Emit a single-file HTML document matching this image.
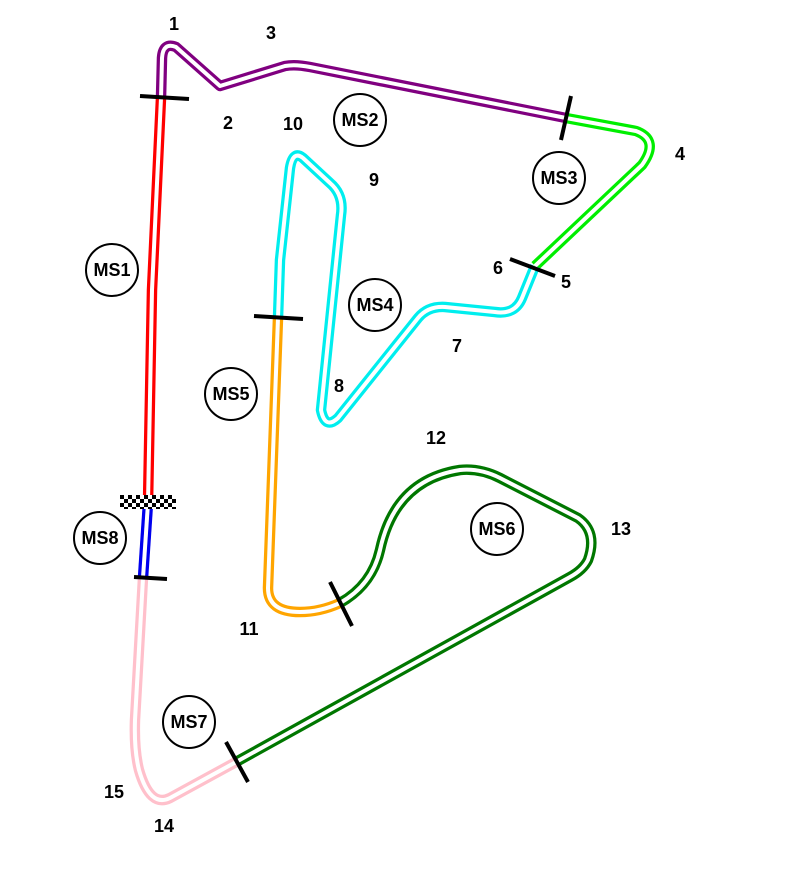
<!DOCTYPE html>
<html><head><style>
html,body{margin:0;padding:0;background:#fff;width:791px;height:873px;overflow:hidden}
text{font-family:"Liberation Sans",Arial,sans-serif;font-weight:bold;font-size:18px;fill:#000}
</style></head><body>
<svg width="791" height="873" viewBox="0 0 791 873" xmlns="http://www.w3.org/2000/svg">
<defs>
<pattern id="chk" x="120" y="495" width="8" height="8" patternUnits="userSpaceOnUse">
<rect width="8" height="8" fill="#fff"/><rect width="4" height="4" fill="#000"/><rect x="4" y="4" width="4" height="4" fill="#000"/>
</pattern>
</defs>
<g fill="none" stroke-linejoin="round" stroke-linecap="butt">
<g stroke-width="10.5">
<path stroke="#800080" d="M161,98 L162,58 Q163,42 176,47 L220,86 L285,66 Q295,64 310,67 L566,118"/>
<path stroke="#00ee00" d="M566,118 L636,131 Q660,140 642,165 L535,266"/>
<path stroke="#00eeee" d="M535,266 L522,298 Q515,315 495,312 L445,307 Q428,306 418,318 L338,418 Q325,430 321,410 L341,215 Q344,195 330,183 L303,158 Q293,150 290,168 L280,260 L278,318"/>
<path stroke="#ffa500" d="M278,318 L268,588 Q268,612 300,612 Q320,612 340,603"/>
<path stroke="#007700" d="M340,603 Q372,585 380,550 Q395,480 460,470 Q480,468 500,478 L578,518 Q598,532 588,560 Q583,570 570,577 L236,762"/>
<path stroke="#ffc0cb" d="M236,762 L170,798 Q150,808 139,770 Q134,750 135,720 L143,578"/>
<path stroke="#0000ee" d="M143,578 L148,503"/>
<path stroke="#ff0000" d="M148,503 L152,290 L161,98"/>
</g>
<g stroke="#fff" stroke-width="4">
<path d="M161,98 L162,58 Q163,42 176,47 L220,86 L285,66 Q295,64 310,67 L566,118"/>
<path d="M566,118 L636,131 Q660,140 642,165 L535,266"/>
<path d="M535,266 L522,298 Q515,315 495,312 L445,307 Q428,306 418,318 L338,418 Q325,430 321,410 L341,215 Q344,195 330,183 L303,158 Q293,150 290,168 L280,260 L278,318"/>
<path d="M278,318 L268,588 Q268,612 300,612 Q320,612 340,603"/>
<path d="M340,603 Q372,585 380,550 Q395,480 460,470 Q480,468 500,478 L578,518 Q598,532 588,560 Q583,570 570,577 L236,762"/>
<path d="M236,762 L170,798 Q150,808 139,770 Q134,750 135,720 L143,578"/>
<path d="M143,578 L148,503"/>
<path d="M148,503 L152,290 L161,98"/>
</g>
<g stroke="#000" stroke-width="4">
<line x1="140" y1="96" x2="189" y2="99"/>
<line x1="571" y1="96" x2="561" y2="140"/>
<line x1="510" y1="259" x2="555" y2="276"/>
<line x1="254" y1="316" x2="303" y2="319"/>
<line x1="330" y1="582" x2="352" y2="626"/>
<line x1="226" y1="742" x2="248" y2="782"/>
<line x1="134" y1="577" x2="167" y2="579"/>
</g>
<g stroke="#000" stroke-width="2">
<circle cx="360" cy="120" r="26"/><circle cx="559" cy="178" r="26"/>
<circle cx="112" cy="270" r="26"/><circle cx="375" cy="305" r="26"/>
<circle cx="231" cy="394" r="26"/><circle cx="497" cy="529" r="26"/>
<circle cx="100" cy="538" r="26"/><circle cx="189" cy="722" r="26"/>
</g>
</g>
<rect x="120" y="495" width="56" height="14" fill="url(#chk)"/>
<g text-anchor="middle">
<text x="360" y="126">MS2</text><text x="559" y="184">MS3</text>
<text x="112" y="276">MS1</text><text x="375" y="311">MS4</text>
<text x="231" y="400">MS5</text><text x="497" y="535">MS6</text>
<text x="100" y="544">MS8</text><text x="189" y="728">MS7</text>
<text x="174" y="30">1</text><text x="271" y="39">3</text>
<text x="228" y="129">2</text><text x="293" y="130">10</text>
<text x="374" y="186">9</text><text x="680" y="160">4</text>
<text x="498" y="274">6</text><text x="566" y="288">5</text>
<text x="457" y="352">7</text><text x="339" y="392">8</text>
<text x="436" y="444">12</text><text x="621" y="535">13</text>
<text x="249" y="635">11</text><text x="114" y="798">15</text>
<text x="164" y="832">14</text>
</g>
</svg>
</body></html>
